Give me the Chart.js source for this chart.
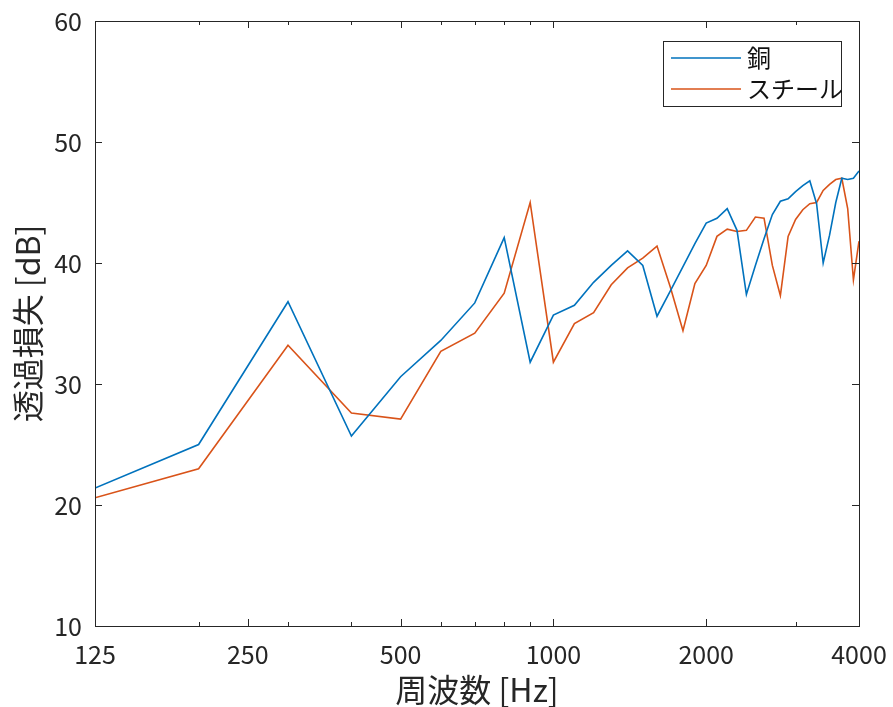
<!DOCTYPE html>
<html>
<head>
<meta charset="utf-8">
<script src="https://cdn.jsdelivr.net/npm/chart.js@4.4.1/dist/chart.umd.min.js"></script>
<style>
  html, body { margin: 0; padding: 0; background: #fff; }
  #wrap { width: 893px; height: 707px; }
</style>
</head>
<body>
<div id="wrap"><canvas id="myChart" width="893" height="707"></canvas></div>
<script>
  var freqs = [125, 200, 300, 400, 500, 600, 700, 800, 900, 1000,
    1100, 1200, 1300, 1400, 1500, 1600, 1700, 1800, 1900, 2000,
    2100, 2200, 2300, 2400, 2500, 2600, 2700, 2800, 2900, 3000,
    3100, 3200, 3300, 3400, 3500, 3600, 3700, 3800, 3900, 4000];
  var copper = [21.4, 25.0, 36.8, 25.7, 30.6, 33.6, 36.7, 42.1, 31.8, 35.7,
    36.5, 38.4, 39.8, 41.0, 39.8, 35.6, 37.7, 39.7, 41.6, 43.3,
    43.7, 44.5, 42.7, 37.4, 39.8, 42.0, 44.0, 45.1, 45.3, 45.9,
    46.4, 46.8, 44.9, 40.0, 42.3, 45.0, 47.0, 46.9, 47.0, 47.6];
  var steel = [20.6, 23.0, 33.2, 27.6, 27.1, 32.7, 34.2, 37.5, 45.0, 31.8,
    35.0, 35.9, 38.2, 39.6, 40.4, 41.4, 38.0, 34.4, 38.3, 39.8,
    42.2, 42.8, 42.6, 42.7, 43.8, 43.7, 39.8, 37.3, 42.2, 43.6,
    44.4, 44.9, 45.0, 46.0, 46.5, 46.9, 47.0, 44.5, 38.6, 41.8];
  var seriesNames = ['銅', 'スチール'];
  var xTicks = [125, 200, 250, 300, 400, 500, 600, 700, 800, 900, 1000, 2000, 3000, 4000];
  var xLabels = [125, 250, 500, 1000, 2000, 4000];
  var yMin = 10, yMax = 60, yStep = 10;

  var fontFamily = "'Noto Sans CJK JP', 'Noto Sans', sans-serif";
  var axisColor = '#262626';

  function toPoints(values) {
    return freqs.map(function (f, i) { return { x: f, y: values[i] }; });
  }

  // MATLAB style box: inner ticks on all four sides + legend in the corner
  var axesBox = {
    id: 'axesBox',
    afterDatasetsDraw: function (chart) {
      var ctx = chart.ctx;
      var a = chart.chartArea;
      var xs = chart.scales.x;
      var ys = chart.scales.y;

      ctx.save();
      ctx.strokeStyle = axisColor;
      ctx.lineWidth = 1;
      ctx.beginPath();
      xs.ticks.forEach(function (t) {
        var px = Math.round(xs.getPixelForValue(t.value)) + 0.5;
        var len = xLabels.indexOf(t.value) >= 0 ? 7 : 4;
        ctx.moveTo(px, a.bottom);
        ctx.lineTo(px, a.bottom - len);
        ctx.moveTo(px, a.top);
        ctx.lineTo(px, a.top + len);
      });
      ys.ticks.forEach(function (t) {
        var py = Math.round(ys.getPixelForValue(t.value)) + 0.5;
        ctx.moveTo(a.left, py);
        ctx.lineTo(a.left + 7, py);
        ctx.moveTo(a.right, py);
        ctx.lineTo(a.right - 7, py);
      });
      ctx.stroke();
      ctx.strokeRect(Math.round(a.left) + 0.5, Math.round(a.top) + 0.5,
        Math.round(a.right - a.left), Math.round(a.bottom - a.top));

      // legend
      var bw = 178, bh = 65;
      var bx = Math.round(a.right) - 18 - bw;
      var by = Math.round(a.top) + 20;
      ctx.fillStyle = '#fff';
      ctx.fillRect(bx, by, bw, bh);
      ctx.strokeRect(bx + 0.5, by + 0.5, bw, bh);
      ctx.font = '24px ' + fontFamily;
      ctx.textBaseline = 'middle';
      ctx.textAlign = 'left';
      chart.data.datasets.forEach(function (ds, i) {
        var ry = by + 17 + i * 31;
        ctx.strokeStyle = ds.borderColor;
        ctx.lineWidth = 1.5;
        ctx.beginPath();
        ctx.moveTo(bx + 8, ry);
        ctx.lineTo(bx + 78, ry);
        ctx.stroke();
        ctx.fillStyle = '#111';
        ctx.fillText(ds.label, bx + 84, ry);
      });
      ctx.restore();
    }
  };

  var ctx = document.getElementById('myChart');
  new Chart(ctx, {
    type: 'line',
    data: {
      datasets: [{
        label: seriesNames[0],
        data: toPoints(copper),
        borderColor: '#0072BD',
        borderWidth: 1.6,
        pointRadius: 0,
        tension: 0
      }, {
        label: seriesNames[1],
        data: toPoints(steel),
        borderColor: '#D95319',
        borderWidth: 1.6,
        pointRadius: 0,
        tension: 0
      }]
    },
    options: {
      responsive: false,
      animation: false,
      devicePixelRatio: 1,
      layout: { padding: { top: 21, right: 34, left: 0, bottom: 0 } },
      scales: {
        x: {
          type: 'logarithmic',
          min: 125,
          max: 4000,
          grid: { display: false, drawTicks: false },
          border: { display: false },
          afterBuildTicks: function (scale) {
            scale.ticks = xTicks.map(function (v) { return { value: v }; });
          },
          afterFit: function (scale) {
            scale.height = 81;
            scale.paddingLeft = 0;
            scale.paddingRight = 0;
          },
          ticks: {
            autoSkip: false,
            maxRotation: 0,
            padding: 13,
            color: axisColor,
            font: { size: 25, family: fontFamily },
            callback: function (value) {
              return xLabels.indexOf(value) >= 0 ? String(value) : '';
            }
          },
          title: {
            display: true,
            text: '周波数 [Hz]',
            color: axisColor,
            padding: { top: 0, bottom: -2 },
            font: { size: 32, family: fontFamily }
          }
        },
        y: {
          min: yMin,
          max: yMax,
          grid: { display: false, drawTicks: false },
          border: { display: false },
          afterFit: function (scale) {
            scale.width = 95;
            scale.paddingTop = 0;
            scale.paddingBottom = 0;
          },
          ticks: {
            stepSize: yStep,
            padding: 13,
            color: axisColor,
            font: { size: 25, family: fontFamily }
          },
          title: {
            display: true,
            text: '透過損失 [dB]',
            color: axisColor,
            padding: { top: 9, bottom: 0 },
            font: { size: 32, family: fontFamily }
          }
        }
      },
      plugins: {
        legend: { display: false },
        tooltip: { enabled: false }
      }
    },
    plugins: [axesBox]
  });
</script>
</body>
</html>
